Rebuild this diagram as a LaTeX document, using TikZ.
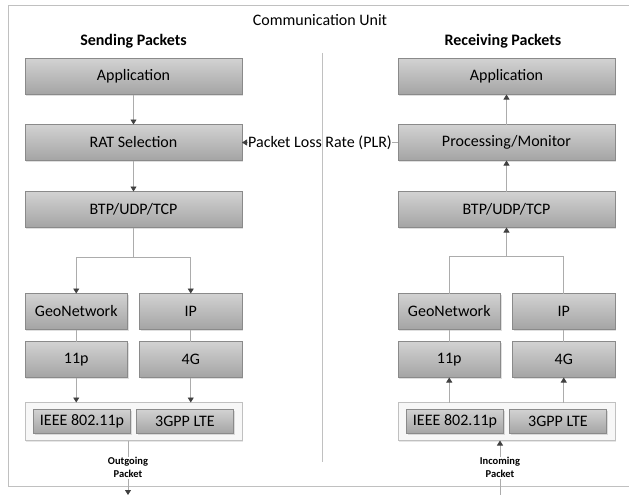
\documentclass[tikz,border=0pt]{standalone}
\usepackage{fontspec}
\setmainfont{Carlito}
\usepackage{xcolor}
\usetikzlibrary{arrows.meta, positioning, shadows}

\definecolor{boxtop}{RGB}{210,210,210}
\definecolor{boxbot}{RGB}{164,164,164}
\definecolor{boxline}{RGB}{138,138,138}
\definecolor{wire}{RGB}{172,172,172}
\definecolor{tipgray}{RGB}{64,64,64}
\definecolor{framegray}{RGB}{192,192,192}

\begin{document}
\begin{tikzpicture}[
    x=1pt, y=-1pt,
    node distance=30pt and 12pt,
    box/.style={draw=boxline, top color=boxtop, bottom color=boxbot, minimum width=217pt, minimum height=36pt,
        inner sep=0pt, outer sep=0pt, font=\fontsize{16}{19}\selectfont,
        drop shadow={shadow xshift=1.2pt, shadow yshift=-1.2pt, opacity=0.25}},
    small/.style={box, minimum width=102.5pt},
    radio/.style={box, minimum width=97pt, minimum height=24pt},
    holder/.style={draw=framegray, fill=black!3, minimum width=217pt, minimum height=38pt, inner sep=0pt, outer sep=0pt,
        drop shadow={shadow xshift=1.2pt, shadow yshift=-1.2pt, opacity=0.2}},
    title/.style={font=\bfseries\fontsize{16}{19}\selectfont},
    pkt/.style={fill=white, align=center, inner sep=1pt, font=\bfseries\fontsize{10.5}{13}\selectfont},
    line/.style={draw=wire, line width=0.8pt},
    arrow/.style={line, -{Triangle[length=5pt, width=6pt, color=tipgray]}}
]
    \clip (0,0) rectangle (629,495);
    \draw[framegray, line width=0.9pt] (8,5) rectangle (640,486);

    \node[font=\fontsize{16}{19}\selectfont] (unit) at (320,20) {Communication Unit};
    \node[title] (lhead) at (133.5,41) {Sending Packets};
    \node[title] (rhead) at (503,41) {Receiving Packets};

    % sending side
    \node[box] (lapp) at (133.5,76.5) {Application};
    \node[box, below=30pt of lapp] (lrat) {RAT Selection};
    \node[box, below=31pt of lrat] (lbtp) {BTP/UDP/TCP};
    \node[small, below=66pt of lbtp.south west, anchor=north west] (lgeo) {GeoNetwork};
    \node[small, right=of lgeo] (lip) {IP};
    \node[small, below=12pt of lgeo] (l11p) {11p};
    \node[small, below=12pt of lip] (l4g) {4G};
    \node[holder, below=25pt of l11p.south west, anchor=north west] (lcont) {};
    \node[radio, right=8.5pt of lcont.west] (lwave) {IEEE 802.11p};
    \node[radio, right=6pt of lwave] (lcell) {3GPP LTE};

    % receiving side
    \node[box] (rapp) at (506.5,76.5) {Application};
    \node[box, below=30pt of rapp] (rproc) {Processing/Monitor};
    \node[box, below=31pt of rproc] (rbtp) {BTP/UDP/TCP};
    \node[small, below=66pt of rbtp.south west, anchor=north west] (rgeo) {GeoNetwork};
    \node[small, right=of rgeo] (rip) {IP};
    \node[small, below=12pt of rgeo] (r11p) {11p};
    \node[small, below=12pt of rip] (r4g) {4G};
    \node[holder, below=25pt of r11p.south west, anchor=north west] (rcont) {};
    \node[radio, right=8.5pt of rcont.west] (rwave) {IEEE 802.11p};
    \node[radio, right=6pt of rwave] (rcell) {3GPP LTE};

    \coordinate[below=30pt of lbtp.south] (lsplit);
    \coordinate[below=29pt of rbtp.south] (rjoin);
    \coordinate (lexit) at (128,495);
    \coordinate (rentry) at (500,495);

    \draw[arrow] (lapp) -- (lrat);
    \draw[arrow] (lrat) -- (lbtp);
    \draw[line] (lbtp) -- (lsplit);
    \draw[arrow] (lsplit) -| (lgeo);
    \draw[arrow] (lsplit) -| (lip);
    \draw[line] (lgeo) -- (l11p);
    \draw[line] (lip) -- (l4g);
    \draw[arrow] (l11p.south) -- (l11p.south |- lcont.north);
    \draw[arrow] (l4g.south) -- (l4g.south |- lcont.north);
    \draw[arrow] (lexit |- lcont.south) -- node[pkt] {Outgoing\\Packet} (lexit);

    \draw[arrow] (rproc) -- (rapp);
    \draw[arrow] (rbtp) -- (rproc);
    \draw[line] (rgeo) |- (rjoin);
    \draw[line] (rip) |- (rjoin);
    \draw[arrow] (rjoin) -- (rbtp);
    \draw[line] (r11p) -- (rgeo);
    \draw[line] (r4g) -- (rip);
    \draw[arrow] (r11p.south |- rcont.north) -- (r11p.south);
    \draw[arrow] (r4g.south |- rcont.north) -- (r4g.south);
    \draw[arrow] (rentry) -- node[pkt] {Incoming\\Packet} (rentry |- rcont.south);

    \draw[arrow] (rproc) -- node[fill=white, inner sep=0.5pt, font=\fontsize{16}{19}\selectfont] {Packet Loss Rate (PLR)} (lrat);
    \draw[framegray, line width=0.9pt] (322,53) -- (322,462);
\end{tikzpicture}
\end{document}
